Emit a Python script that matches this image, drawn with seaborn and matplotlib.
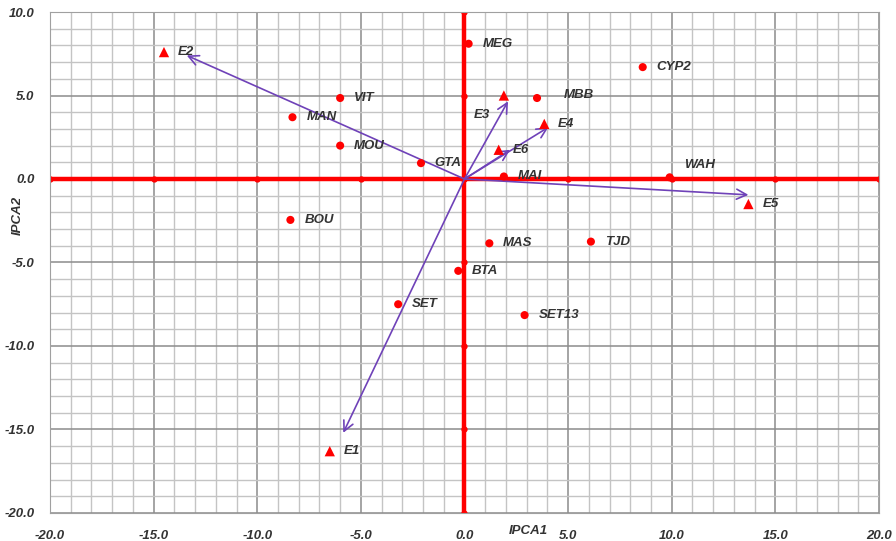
import numpy as np
import matplotlib
matplotlib.use('Agg')
import matplotlib.pyplot as plt
from matplotlib.ticker import MultipleLocator, FormatStrFormatter
import seaborn as sns
import pandas as pd

# genotype scores
gen_names = ['MEG', 'CYP2', 'VIT', 'MAN', 'MOU', 'GTA', 'MBB', 'MAI', 'WAH',
             'BOU', 'MAS', 'TJD', 'BTA', 'SET', 'SET13']
gen_x = [0.2, 8.6, -6.0, -8.3, -6.0, -2.1, 3.5, 1.9, 9.9,
         -8.4, 1.2, 6.1, -0.3, -3.2, 2.9]
gen_y = [8.1, 6.7, 4.85, 3.7, 2.0, 0.95, 4.85, 0.15, 0.1,
         -2.45, -3.85, -3.75, -5.5, -7.5, -8.15]

# environment scores
env_names = ['E1', 'E2', 'E3', 'E4', 'E5', 'E6']
env_x = [-6.5, -14.5, 1.9, 3.85, 13.7, 1.65]
env_y = [-16.3, 7.6, 5.0, 3.3, -1.5, 1.75]

# environment vectors (arrow tips)
vec_x = [-5.85, -13.4, 2.1, 4.05, 13.7, 2.2]
vec_y = [-15.2, 7.4, 4.65, 3.1, -0.95, 1.75]

xticks = np.arange(-20, 21, 5)
yticks = np.arange(-20, 11, 5)

red = '#ff0000'
purple = '#6f42b8'
txt = '#333333'
font = dict(family='Liberation Sans', fontweight='bold', fontstyle='italic')

fig = plt.figure(figsize=(8.96, 5.41), dpi=100)
ax = fig.add_axes([0.0558, 0.0518, 0.9252, 0.926])

ax.set_xlim(-20, 20)
ax.set_ylim(-20, 10)
ax.xaxis.set_major_locator(MultipleLocator(5))
ax.xaxis.set_minor_locator(MultipleLocator(1))
ax.yaxis.set_major_locator(MultipleLocator(5))
ax.yaxis.set_minor_locator(MultipleLocator(1))
ax.xaxis.set_major_formatter(FormatStrFormatter('%.1f'))
ax.yaxis.set_major_formatter(FormatStrFormatter('%.1f'))
ax.grid(which='minor', color='#c4c4c4', lw=1.0, zorder=0)
ax.grid(which='major', color='#8c8c8c', lw=1.1, zorder=0)
ax.set_axisbelow(True)
ax.tick_params(which='both', length=0)
ax.tick_params(axis='x', pad=12)
ax.tick_params(axis='y', pad=11)
for lab in ax.get_xticklabels() + ax.get_yticklabels():
    lab.set(color=txt, fontsize=9.5, **font)
for sp in ax.spines.values():
    sp.set_color('#a0a0a0')

# red zero axes with little tick dots
ax.axhline(0, color=red, lw=3.2, zorder=2)
ax.axvline(0, color=red, lw=3.2, zorder=2)
ax.plot(xticks, np.zeros(len(xticks)), 'o', color=red, ms=3.5, zorder=2)
ax.plot(np.zeros(len(yticks)), yticks, 'o', color=red, ms=3.5, zorder=2)

# vectors
for vx, vy in zip(vec_x, vec_y):
    ax.annotate('', xy=(vx, vy), xytext=(0, 0),
                arrowprops=dict(arrowstyle='->', color=purple, lw=1.2,
                                mutation_scale=18, shrinkA=0, shrinkB=0),
                zorder=4)

gen = pd.DataFrame({'name': gen_names, 'x': gen_x, 'y': gen_y})
env = pd.DataFrame({'name': env_names, 'x': env_x, 'y': env_y})
sns.scatterplot(data=gen, x='x', y='y', color=red, marker='o', s=34,
                edgecolor='none', ax=ax, zorder=5)
sns.scatterplot(data=env, x='x', y='y', color=red, marker='^', s=55,
                edgecolor='none', ax=ax, zorder=5)

special = {'E3': (-16, -14, 'center'), 'WAH': (10, 9, 'left'), 'MBB': (19, 2, 'left')}
for df in (gen, env):
    for n, x, y in zip(df['name'], df['x'], df['y']):
        dx, dy, ha = special.get(n, (10, 0, 'left'))
        ax.annotate(n, (x, y), xytext=(dx, dy), textcoords='offset points',
                    ha=ha, va='center', fontsize=9.5, color=txt, zorder=6, **font)

ax.set_xlabel('IPCA1', fontsize=9.5, color=txt, **font)
ax.set_ylabel('IPCA2', fontsize=9.5, color=txt, **font)
ax.xaxis.set_label_coords(0.577, -0.024)
ax.yaxis.set_label_coords(-0.032, 0.593)

fig.savefig('out.png', dpi=100)
